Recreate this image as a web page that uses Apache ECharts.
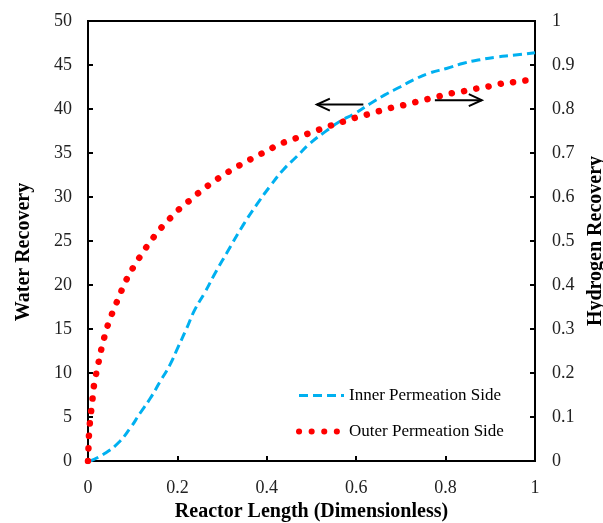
<!DOCTYPE html>
<html>
<head>
<meta charset="utf-8">
<script src="https://cdn.jsdelivr.net/npm/echarts@6/dist/echarts.min.js"></script>
<style>
html,body{margin:0;padding:0;background:#fff;}
#chart{width:603px;height:523px;}
</style>
</head>
<body>
<div id="chart"></div>
<script>
// Inner Permeation Side -> Water Recovery (left axis)
var xInner = [0.005, 0.038, 0.068, 0.094, 0.116, 0.139, 0.161, 0.183, 0.202, 0.221, 0.239, 0.262, 0.284, 0.310, 0.347, 0.377, 0.407, 0.437, 0.467, 0.497, 0.530, 0.564, 0.597, 0.631, 0.664, 0.698, 0.728, 0.765, 0.802, 0.840, 0.877, 0.914, 0.951, 1.0];
var yInner = [0, 0.87, 2.08, 3.7, 5.4, 7.1, 9.0, 10.9, 13.0, 15.1, 17.2, 19.2, 21.3, 23.6, 26.8, 29.1, 31.2, 33.1, 34.6, 36.1, 37.4, 38.6, 39.5, 40.6, 41.6, 42.5, 43.3, 44.1, 44.6, 45.2, 45.6, 45.9, 46.1, 46.4];
// Outer Permeation Side -> Hydrogen Recovery (right axis)
var xOuter = [0, 0.001, 0.002, 0.004, 0.007, 0.010, 0.013, 0.018, 0.024, 0.030, 0.037, 0.045, 0.055, 0.066, 0.077, 0.089, 0.103, 0.118, 0.134, 0.151, 0.169, 0.189, 0.210, 0.231, 0.253, 0.277, 0.300, 0.325, 0.350, 0.375, 0.401, 0.426, 0.453, 0.479, 0.506, 0.533, 0.561, 0.588, 0.616, 0.644, 0.671, 0.699, 0.726, 0.754, 0.782, 0.810, 0.838, 0.867, 0.895, 0.922, 0.951, 0.979, 1.0];
var yOuter = [0, 0.027, 0.055, 0.084, 0.113, 0.140, 0.169, 0.197, 0.226, 0.255, 0.283, 0.311, 0.338, 0.365, 0.392, 0.418, 0.443, 0.467, 0.491, 0.514, 0.536, 0.557, 0.578, 0.595, 0.614, 0.632, 0.648, 0.664, 0.678, 0.692, 0.705, 0.719, 0.729, 0.739, 0.749, 0.759, 0.768, 0.777, 0.785, 0.793, 0.801, 0.807, 0.814, 0.821, 0.828, 0.835, 0.840, 0.846, 0.851, 0.857, 0.861, 0.865, 0.868];

var seriesNames = ['Inner Permeation Side', 'Outer Permeation Side'];
var xTitle = 'Reactor Length (Dimensionless)';
var leftTitle = 'Water Recovery';
var rightTitle = 'Hydrogen Recovery';
// annotation arrows: [x0, x1, y] in data units (left arrow on left axis, right arrow on right axis)
var arrowLeft = [0.616, 0.512, 40.5];
var arrowRight = [0.776, 0.881, 0.82];

function pairs(xs, ys){ return xs.map(function(x,i){ return [x, ys[i]]; }); }

var FONT = 'Liberation Serif';
var BLUE = '#00B0F0', RED = '#FF0000';
var blueLine = { color: BLUE, width: 3, type: [9, 5] };
var redLine = { color: RED, width: 6.5, type: [0.1, 12.4], cap: 'round' };
var chart = echarts.init(document.getElementById('chart'));
var option = {
  animation: false,
  backgroundColor: '#fff',
  textStyle: { fontFamily: FONT },
  grid: { left: 88, right: 68, top: 21, bottom: 62, show: true, borderColor: '#000', borderWidth: 2,
          containLabel: false, outerBoundsMode: 'none' },
  legend: {
    orient: 'vertical', left: 291, top: 382, itemWidth: 45, itemHeight: 14, itemGap: 19,
    textStyle: { fontFamily: FONT, fontSize: 17, color: '#000' },
    itemStyle: { opacity: 0 },
    data: [
      { name: seriesNames[0], itemStyle: { opacity: 0 }, lineStyle: blueLine },
      { name: seriesNames[1], itemStyle: { opacity: 0 }, lineStyle: { color: RED, width: 6, type: [0.1, 12.5], cap: 'round' } }
    ]
  },
  xAxis: {
    type: 'value', min: 0, max: 1, interval: 0.2,
    name: xTitle, nameLocation: 'middle', nameGap: 33,
    nameTextStyle: { fontFamily: FONT, fontSize: 20, fontWeight: 'bold', color: '#000' },
    axisLine: { lineStyle: { color: '#000', width: 2 } },
    axisTick: { inside: true, length: 5, lineStyle: { color: '#000', width: 2 } },
    axisLabel: { margin: 18, fontFamily: FONT, fontSize: 18, color: '#222' },
    splitLine: { show: false }
  },
  yAxis: [{
    type: 'value', min: 0, max: 50, interval: 5, position: 'left',
    name: leftTitle, nameLocation: 'middle', nameGap: 54, nameRotate: 90,
    nameTextStyle: { fontFamily: FONT, fontSize: 20, fontWeight: 'bold', color: '#000', padding: [0, 22, 0, 0] },
    axisLine: { show: true, lineStyle: { color: '#000', width: 2 } },
    axisTick: { show: true, inside: true, length: 5, lineStyle: { color: '#000', width: 2 } },
    axisLabel: { margin: 16, fontFamily: FONT, fontSize: 18, color: '#222' },
    splitLine: { show: false }
  }, {
    type: 'value', min: 0, max: 1, interval: 0.1, position: 'right',
    name: rightTitle, nameLocation: 'middle', nameGap: 49, nameRotate: 90,
    nameTextStyle: { fontFamily: FONT, fontSize: 20, fontWeight: 'bold', color: '#000' },
    axisLine: { show: true, lineStyle: { color: '#000', width: 2 } },
    axisTick: { show: true, inside: true, length: 5, lineStyle: { color: '#000', width: 2 } },
    axisLabel: { margin: 17, fontFamily: FONT, fontSize: 18, color: '#222',
      formatter: function(v){ return String(Math.round(v*10)/10); } },
    splitLine: { show: false }
  }],
  series: [{
    name: seriesNames[0], type: 'line', yAxisIndex: 0, smooth: true,
    symbol: 'none', showSymbol: false, color: BLUE,
    lineStyle: blueLine,
    data: pairs(xInner, yInner)
  }, {
    name: seriesNames[1], type: 'line', yAxisIndex: 1, smooth: true,
    symbol: 'none', showSymbol: false, color: RED,
    lineStyle: redLine,
    data: pairs(xOuter, yOuter)
  }]
};
chart.setOption(option);

function arrowGraphic(p0, p1){
  var dir = p1[0] > p0[0] ? 1 : -1;
  var hx = p1[0] - dir * 13;
  return [{
    type: 'line', shape: { x1: p0[0], y1: p0[1], x2: p1[0], y2: p1[1] },
    style: { stroke: '#000', lineWidth: 2 }, z: 100
  }, {
    type: 'polyline', shape: { points: [[hx, p1[1]-6], [p1[0], p1[1]], [hx, p1[1]+6]] },
    style: { stroke: '#000', lineWidth: 2, fill: null }, z: 100
  }];
}
var a0 = chart.convertToPixel({ xAxisIndex: 0, yAxisIndex: 0 }, [arrowLeft[0], arrowLeft[2]]);
var a1 = chart.convertToPixel({ xAxisIndex: 0, yAxisIndex: 0 }, [arrowLeft[1], arrowLeft[2]]);
var b0 = chart.convertToPixel({ xAxisIndex: 0, yAxisIndex: 1 }, [arrowRight[0], arrowRight[2]]);
var b1 = chart.convertToPixel({ xAxisIndex: 0, yAxisIndex: 1 }, [arrowRight[1], arrowRight[2]]);
chart.setOption({ graphic: arrowGraphic(a0, a1).concat(arrowGraphic(b0, b1)) });
</script>
</body>
</html>
